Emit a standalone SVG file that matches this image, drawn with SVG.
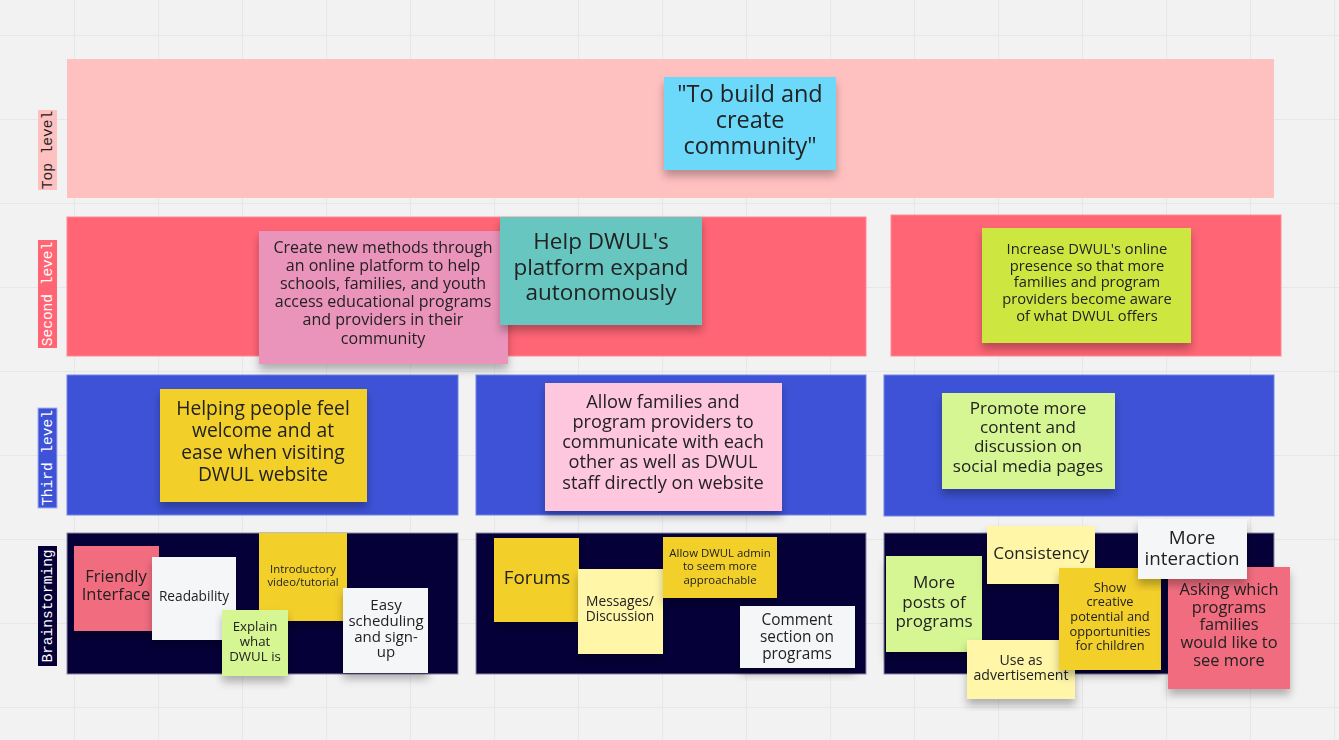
<svg xmlns="http://www.w3.org/2000/svg" width="1339" height="740" viewBox="0 0 1339 740">
<defs>
<pattern id="grid" x="-10" y="35" width="84" height="84" patternUnits="userSpaceOnUse">
<path d="M0 0H84M0 0V84" fill="none" stroke="#e4e4e4" stroke-width="1.5"/>
</pattern>
<filter id="sh" x="-10%" y="-10%" width="120%" height="130%">
<feDropShadow dx="0" dy="6" stdDeviation="4" flood-color="#000" flood-opacity="0.28"/>
</filter>
<style>
.t{font-family:"Open Sans","Noto Sans",sans-serif;fill:#222;text-anchor:middle}
.lab{font-family:"Liberation Mono","DejaVu Sans Mono",monospace;font-size:14.5px;text-anchor:middle;dominant-baseline:central}
.st{filter:url(#sh)}
</style>
</defs>
<rect width="1339" height="740" fill="#f2f2f2"/>
<rect width="1339" height="740" fill="url(#grid)"/>

<g id="frames">
<rect id="top-frame" x="67" y="59" width="1207" height="139" fill="#ffc0c0"/>
<rect id="second-left" x="67" y="217" width="799" height="139" fill="#ff6575" stroke="#ff8a96" stroke-width="1"/>
<rect id="second-right" x="891" y="215" width="390" height="141" fill="#ff6575" stroke="#ff8a96" stroke-width="1"/>
<rect id="third-left" x="67" y="375" width="391" height="140" fill="#3d52d6" stroke="#7583e6" stroke-width="1"/>
<rect id="third-mid" x="476" y="375" width="390" height="140" fill="#3d52d6" stroke="#7583e6" stroke-width="1"/>
<rect id="third-right" x="884" y="375" width="390" height="141" fill="#3d52d6" stroke="#7583e6" stroke-width="1"/>
<rect id="brain-left" x="67" y="533" width="391" height="141" fill="#050038" stroke="#8a8aa6" stroke-width="1"/>
<rect id="brain-mid" x="476" y="533" width="390" height="141" fill="#050038" stroke="#8a8aa6" stroke-width="1"/>
<rect id="brain-right" x="884" y="533" width="390" height="141" fill="#050038" stroke="#8a8aa6" stroke-width="1"/>
</g>

<g id="labels">
<g id="label-top"><rect x="38" y="110" width="19" height="80" fill="#ffc0c0"/><text class="lab" fill="#222" transform="translate(47.5,150) rotate(-90)">Top level</text></g>
<g id="label-second"><rect x="38" y="240" width="19" height="108" fill="#ff6575"/><text class="lab" fill="#fff" transform="translate(47.5,294) rotate(-90)">Second level</text></g>
<g id="label-third"><rect x="38" y="408" width="19" height="100" fill="#3d52d6" stroke="#a9b2ee" stroke-width="1"/><text class="lab" fill="#fff" transform="translate(47.5,458) rotate(-90)">Third level</text></g>
<g id="label-brain"><rect x="38" y="546" width="19" height="120" fill="#050038"/><text class="lab" fill="#fff" transform="translate(47.5,606) rotate(-90)">Brainstorming</text></g>
</g>

<g id="n-top" class="st"><rect x="664" y="77" width="172" height="93" fill="#6cd8fa"/>
<text class="t" font-size="23.5"><tspan x="750" y="102">"To build and</tspan><tspan x="750" y="128">create</tspan><tspan x="750" y="154">community"</tspan></text></g>

<g id="n-create" class="st"><rect x="259" y="231" width="249" height="133" fill="#ea94bb"/>
<text class="t" font-size="16"><tspan x="383" y="253">Create new methods through</tspan><tspan x="383" y="271">an online platform to help</tspan><tspan x="383" y="289">schools, families, and youth</tspan><tspan x="383" y="307">access educational programs</tspan><tspan x="383" y="325">and providers in their</tspan><tspan x="383" y="344">community</tspan></text></g>

<g id="n-help" class="st"><rect x="500" y="217" width="202" height="108" fill="#67c6c0"/>
<text class="t" font-size="22.5"><tspan x="601" y="249">Help DWUL's</tspan><tspan x="601" y="275">platform expand</tspan><tspan x="601" y="300">autonomously</tspan></text></g>

<g id="n-increase" class="st"><rect x="982" y="228" width="209" height="115" fill="#cee741"/>
<text class="t" font-size="14.7"><tspan x="1087" y="254">Increase DWUL's online</tspan><tspan x="1087" y="271">presence so that more</tspan><tspan x="1087" y="287">families and program</tspan><tspan x="1087" y="304">providers  become aware</tspan><tspan x="1087" y="321">of what DWUL offers</tspan></text></g>

<g id="n-helping" class="st"><rect x="160" y="389" width="207" height="113" fill="#f3cf2c"/>
<text class="t" font-size="19.3"><tspan x="263" y="415">Helping people feel</tspan><tspan x="263" y="437">welcome and at</tspan><tspan x="263" y="459">ease when visiting</tspan><tspan x="263" y="481">DWUL website</tspan></text></g>

<g id="n-allow" class="st"><rect x="545" y="383" width="237" height="128" fill="#ffc7dd"/>
<text class="t" font-size="18.2"><tspan x="663" y="408">Allow families and</tspan><tspan x="663" y="428">program providers to</tspan><tspan x="663" y="448">communicate with each</tspan><tspan x="663" y="468">other as well as DWUL</tspan><tspan x="663" y="489">staff directly on website</tspan></text></g>

<g id="n-promote" class="st"><rect x="942" y="393" width="173" height="96" fill="#d5f692"/>
<text class="t" font-size="17.1"><tspan x="1028" y="414">Promote more</tspan><tspan x="1028" y="433">content and</tspan><tspan x="1028" y="452">discussion on</tspan><tspan x="1028" y="472">social media pages</tspan></text></g>

<g id="n-friendly" class="st"><rect x="74" y="546" width="85" height="85" fill="#f16c7f"/>
<text class="t" font-size="16.5"><tspan x="116" y="582">Friendly</tspan><tspan x="116" y="600">Interface</tspan></text></g>

<g id="n-readability" class="st"><rect x="152" y="557" width="84" height="83" fill="#f5f6f8"/>
<text class="t" font-size="13.7"><tspan x="194" y="601">Readability</tspan></text></g>

<g id="n-intro" class="st"><rect x="259" y="533" width="88" height="88" fill="#f3cf2c"/>
<text class="t" font-size="11.3"><tspan x="303" y="573">Introductory</tspan><tspan x="303" y="586">video/tutorial</tspan></text></g>

<g id="n-explain" class="st"><rect x="222" y="610" width="66" height="66" fill="#d5f692"/>
<text class="t" font-size="13.3"><tspan x="255" y="631">Explain</tspan><tspan x="255" y="646">what</tspan><tspan x="255" y="661">DWUL is</tspan></text></g>

<g id="n-easy" class="st"><rect x="343" y="588" width="85" height="85" fill="#f5f6f8"/>
<text class="t" font-size="15"><tspan x="386" y="610">Easy</tspan><tspan x="386" y="626">scheduling</tspan><tspan x="386" y="642">and sign-</tspan><tspan x="386" y="657">up</tspan></text></g>

<g id="n-forums" class="st"><rect x="494" y="538" width="85" height="84" fill="#f3cf2c"/>
<text class="t" font-size="18.8"><tspan x="537" y="584">Forums</tspan></text></g>

<g id="n-messages" class="st"><rect x="578" y="569" width="85" height="85" fill="#fff6a8"/>
<text class="t" font-size="13.8"><tspan x="620" y="606">Messages/</tspan><tspan x="620" y="621">Discussion</tspan></text></g>

<g id="n-admin" class="st"><rect x="663" y="537" width="114" height="61" fill="#f3cf2c"/>
<text class="t" font-size="11.4"><tspan x="720" y="557">Allow DWUL admin</tspan><tspan x="720" y="570">to seem more</tspan><tspan x="720" y="584">approachable</tspan></text></g>

<g id="n-comment" class="st"><rect x="740" y="606" width="115" height="62" fill="#f5f6f8"/>
<text class="t" font-size="15.4"><tspan x="797" y="625">Comment</tspan><tspan x="797" y="642">section on</tspan><tspan x="797" y="659">programs</tspan></text></g>

<g id="n-moreposts" class="st"><rect x="886" y="556" width="96" height="96" fill="#d5f692"/>
<text class="t" font-size="17"><tspan x="934" y="588">More</tspan><tspan x="934" y="608">posts of</tspan><tspan x="934" y="627">programs</tspan></text></g>

<g id="n-consistency" class="st"><rect x="987" y="526" width="108" height="58" fill="#fff6a8"/>
<text class="t" font-size="17.2"><tspan x="1041" y="559">Consistency</tspan></text></g>

<g id="n-advert" class="st"><rect x="967" y="640" width="108" height="59" fill="#fff6a8"/>
<text class="t" font-size="14.1"><tspan x="1021" y="665">Use as</tspan><tspan x="1021" y="680">advertisement</tspan></text></g>

<g id="n-show" class="st"><rect x="1059" y="568" width="102" height="102" fill="#f3cf2c"/>
<text class="t" font-size="12.8"><tspan x="1110" y="592">Show</tspan><tspan x="1110" y="606">creative</tspan><tspan x="1110" y="621">potential and</tspan><tspan x="1110" y="636">opportunities</tspan><tspan x="1110" y="650">for children</tspan></text></g>

<g id="n-asking" class="st"><rect x="1168" y="567" width="122" height="122" fill="#f16c7f"/>
<text class="t" font-size="16.4"><tspan x="1229" y="595">Asking which</tspan><tspan x="1229" y="613">programs</tspan><tspan x="1229" y="630">families</tspan><tspan x="1229" y="648">would like to</tspan><tspan x="1229" y="666">see more</tspan></text></g>

<g id="n-moreinter" class="st"><rect x="1138" y="519" width="109" height="60" fill="#f5f6f8"/>
<text class="t" font-size="18.8"><tspan x="1192" y="544">More</tspan><tspan x="1192" y="565">interaction</tspan></text></g>

<g id="connectors"></g>
</svg>
